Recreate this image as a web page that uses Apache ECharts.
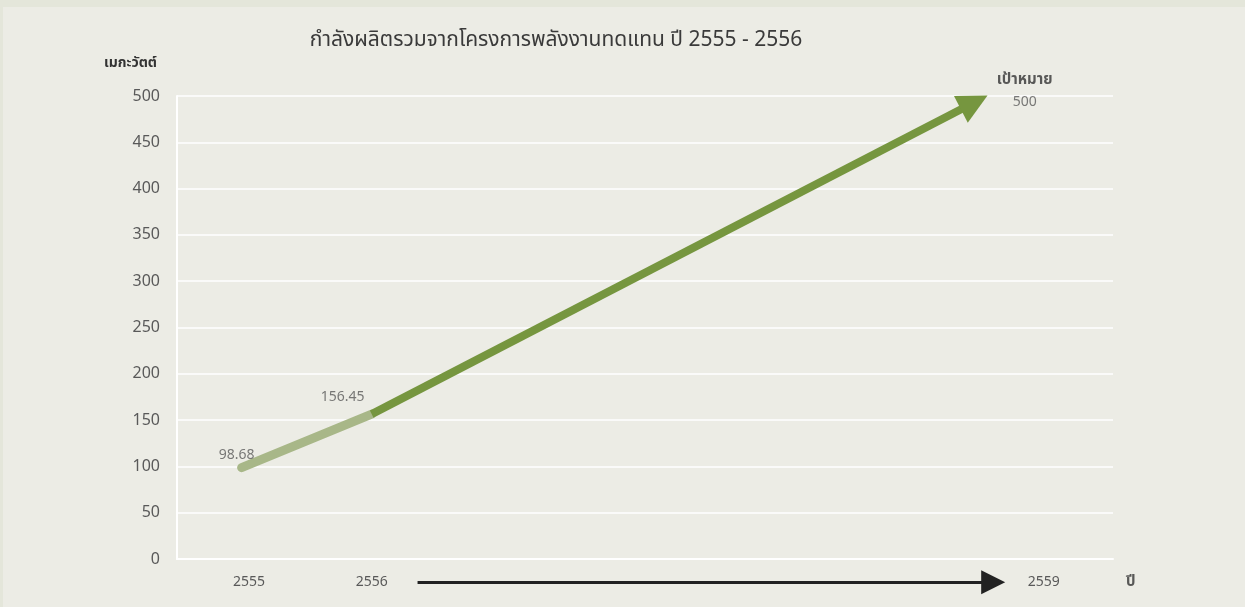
<!DOCTYPE html>
<html>
<head>
<meta charset="utf-8">
<script src="https://cdn.jsdelivr.net/npm/echarts@6/dist/echarts.min.js"></script>
<style>
html,body{margin:0;padding:0;background:#e4e6da;}
#c{position:absolute;left:3px;top:7px;width:1242px;height:600px;background:#ecece5;}
</style>
</head>
<body>
<div id="c"></div>
<script>
// ---- data ----
const titleText = 'กำลังผลิตรวมจากโครงการพลังงานทดแทน ปี 2555 - 2556';
const yAxisName = 'เมกะวัตต์';
const xAxisName = 'ปี';
const yearLabels = ['2555', '2556', '2559'];
const yearPos = [7.7, 20.8, 92.6];          // label positions along x (0-100 scale)
const actualPos = [6.9, 20.8];              // x of actual points
const actualValues = [98.68, 156.45];       // MW
const targetPos = 86.5;                     // x of target arrow tip
const targetValue = 500;                    // MW
const targetLabel = 'เป้าหมาย';
const timeArrowPos = [25.7, 87.2];          // bottom time arrow span
const timeArrowLevel = -25;
const xNamePos = 101.9;

const FONT = "'Noto Sans', 'Noto Sans Thai', sans-serif";
const chart = echarts.init(document.getElementById('c'));

const option = {
  backgroundColor: '#ecece5',
  textStyle: { fontFamily: FONT },
  title: {
    text: titleText,
    left: 548, top: 18, textAlign: 'center',
    textStyle: { fontSize: 21, fontWeight: 'normal', color: '#3a3a3a', fontFamily: FONT }
  },
  grid: { left: 174, right: 132, top: 89, bottom: 48 },
  xAxis: {
    type: 'value', min: 0, max: 100,
    axisLine: { show: true, lineStyle: { color: '#ffffff', width: 2 } },
    axisTick: { show: false },
    splitLine: { show: false },
    axisLabel: {
      customValues: yearPos,
      formatter: v => { const i = yearPos.indexOf(v); return i >= 0 ? yearLabels[i] : ''; },
      fontSize: 14, color: '#595959', margin: 16
    }
  },
  yAxis: {
    type: 'value', min: 0, max: 500, interval: 50,
    name: yAxisName, nameLocation: 'end', nameGap: 26,
    nameTextStyle: { fontSize: 14, fontWeight: 'bold', color: '#333', align: 'right', padding: [0, 20, 0, 0] },
    axisLine: { show: true, lineStyle: { color: '#ffffff', width: 2 } },
    axisTick: { show: false },
    splitLine: { lineStyle: { color: '#ffffff', width: 1.5 } },
    axisLabel: { fontSize: 16, color: '#595959', margin: 17 }
  },
  series: [
    {
      type: 'line',
      data: actualPos.map((x, i) => [x, actualValues[i]]),
      symbol: 'none',
      lineStyle: { color: '#a8b788', width: 9, cap: 'round' },
      z: 3
    },
    {
      type: 'scatter',
      data: actualPos.map((x, i) => ({
        value: [x, actualValues[i]],
        label: { offset: i === 0 ? [-5, 0] : [-29, -5] }
      })),
      symbolSize: 1,
      itemStyle: { color: 'rgba(0,0,0,0)' },
      label: {
        show: true, position: 'top', distance: 5,
        formatter: p => String(p.value[1]),
        fontSize: 14, color: '#595959'
      },
      z: 5
    },
    {
      id: 'targetArrow',
      type: 'lines',
      coordinateSystem: 'cartesian2d',
      clip: false,
      symbol: ['none', 'triangle'],
      symbolSize: [30, 30],
      lineStyle: { color: '#76963f', width: 8, opacity: 1, curveness: 0 },
      data: [{ coords: [[actualPos[1], actualValues[1]], [targetPos, targetValue]] }],
      z: 4
    },
    {
      type: 'lines',
      coordinateSystem: 'cartesian2d',
      clip: false,
      symbol: ['none', 'triangle'],
      symbolSize: [26, 24],
      lineStyle: { color: '#222222', width: 3, opacity: 1 },
      data: [{ coords: [[timeArrowPos[0], timeArrowLevel], [timeArrowPos[1], timeArrowLevel]] }],
      z: 4
    },
    {
      type: 'scatter',
      data: [[targetPos, targetValue]],
      symbolSize: 1,
      itemStyle: { color: 'rgba(0,0,0,0)' },
      label: {
        show: true, position: 'inside', offset: [38, -5],
        formatter: '{a|' + targetLabel + '}\n{b|' + targetValue + '}',
        rich: {
          a: { fontSize: 15, fontWeight: 'bold', color: '#333', lineHeight: 22, align: 'center' },
          b: { fontSize: 14, color: '#595959', lineHeight: 22, align: 'center' }
        }
      },
      z: 5
    },
    {
      type: 'scatter',
      clip: false,
      data: [[xNamePos, timeArrowLevel]],
      symbolSize: 1,
      itemStyle: { color: 'rgba(0,0,0,0)' },
      label: {
        show: true, position: 'inside', formatter: xAxisName,
        fontSize: 15, fontWeight: 'bold', color: '#333'
      },
      z: 5
    }
  ]
};
chart.setOption(option);

// pull the arrow line end back so the triangle tip lands on the target point
const tip = chart.convertToPixel({ gridIndex: 0 }, [targetPos, targetValue]);
const start = chart.convertToPixel({ gridIndex: 0 }, [actualPos[1], actualValues[1]]);
const dx = tip[0] - start[0], dy = tip[1] - start[1];
const len = Math.sqrt(dx * dx + dy * dy);
const back = 14;
const endPx = [tip[0] - dx / len * back, tip[1] - dy / len * back];
const endVal = chart.convertFromPixel({ gridIndex: 0 }, endPx);
chart.setOption({
  series: [{ id: 'targetArrow', data: [{ coords: [[actualPos[1], actualValues[1]], endVal] }] }]
});
</script>
</body>
</html>
